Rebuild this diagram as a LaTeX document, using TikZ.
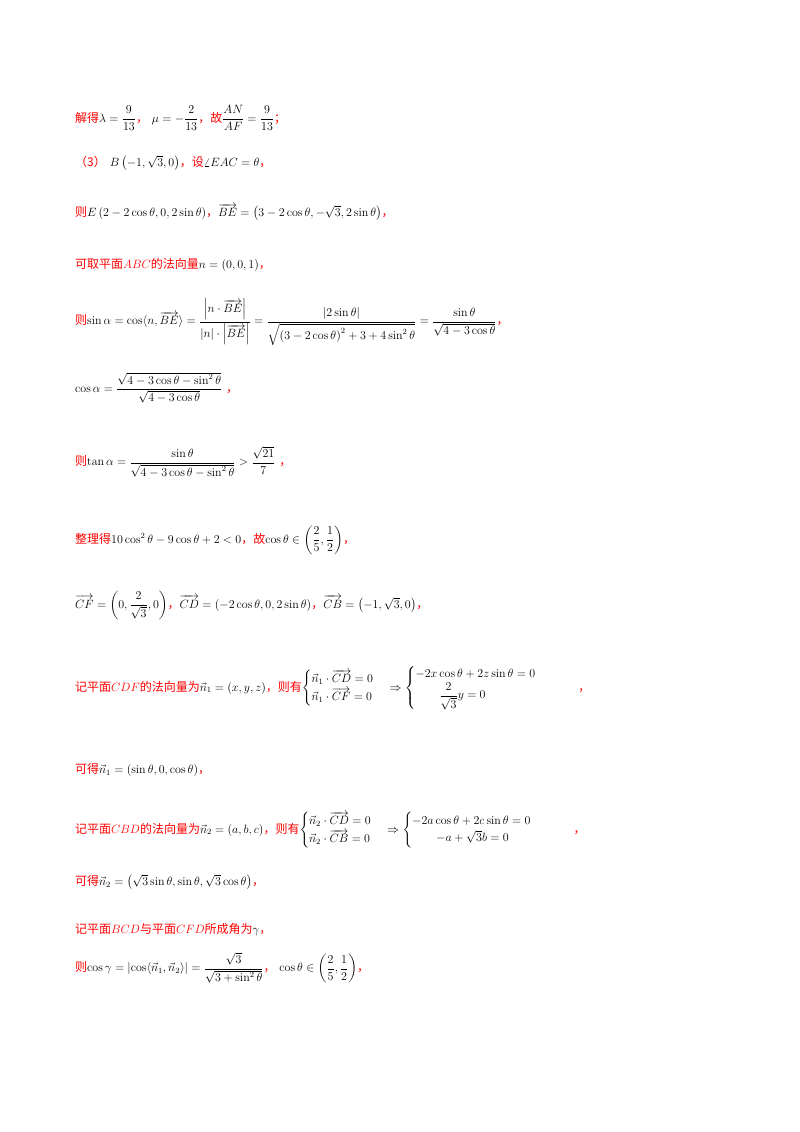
\documentclass[tikz,border=0pt]{standalone}
\usepackage{amsmath}
\usepackage{fontspec}
\newfontfamily\cjk{Noto Sans CJK SC}
\newcommand\zh[1]{{\cjk\color{red}#1}}
\newcommand\rl[1]{{\color{red}$#1$}}
\begin{document}
\begin{tikzpicture}[x=1pt,y=-1pt,line/.style={anchor=west,inner sep=0pt,font=\fontsize{12}{14}\selectfont}]
\useasboundingbox (0,0) rectangle (800,1132);
\node[line] (l1) at (75,118) {\zh{解得}$\lambda=\dfrac{9}{13}$\zh{，}\ $\mu=-\dfrac{2}{13}$\zh{，故}$\dfrac{AN}{AF}=\dfrac{9}{13}$\zh{；}};
\node[line] (l2) at (75,163) {\zh{（3）}\ $B\left(-1,\sqrt{3},0\right)$\zh{，设}$\angle EAC=\theta$\zh{，}};
\node[line] (l3) at (75,212) {\zh{则}$E\left(2-2\cos\theta,0,2\sin\theta\right)$\zh{，}$\overrightarrow{BE}=\left(3-2\cos\theta,-\sqrt{3},2\sin\theta\right)$\zh{，}};
\node[line] (l4) at (75,265) {\zh{可取平面}\rl{ABC}\zh{的法向量}$n=\left(0,0,1\right)$\zh{，}};
\node[line] (l5) at (75,322) {\zh{则}$\sin\alpha=\cos\langle n,\overrightarrow{BE}\rangle=\dfrac{\left|n\cdot\overrightarrow{BE}\right|}{\left|n\right|\cdot\left|\overrightarrow{BE}\right|}=\dfrac{\left|2\sin\theta\right|}{\sqrt{\left(3-2\cos\theta\right)^2+3+4\sin^2\theta}}=\dfrac{\sin\theta}{\sqrt{4-3\cos\theta}}$\zh{，}};
\node[line] (l6) at (75,388) {$\cos\alpha=\dfrac{\sqrt{4-3\cos\theta-\sin^2\theta}}{\sqrt{4-3\cos\theta}}$\ \zh{，}};
\node[line] (l7) at (75,462) {\zh{则}$\tan\alpha=\dfrac{\sin\theta}{\sqrt{4-3\cos\theta-\sin^2\theta}}>\dfrac{\sqrt{21}}{7}$\ \zh{，}};
\node[line] (l8) at (75,540) {\zh{整理得}$10\cos^2\theta-9\cos\theta+2<0$\zh{，故}$\cos\theta\in\left(\dfrac{2}{5},\dfrac{1}{2}\right)$\zh{，}};
\node[line] (l9) at (75,605) {$\overrightarrow{CF}=\left(0,\dfrac{2}{\sqrt{3}},0\right)$\zh{，}$\overrightarrow{CD}=\left(-2\cos\theta,0,2\sin\theta\right)$\zh{，}$\overrightarrow{CB}=\left(-1,\sqrt{3},0\right)$\zh{，}};
\node[line] (l10) at (75,688) {\zh{记平面}\rl{CDF}\zh{的法向量为}$\vec{n}_1=\left(x,y,z\right)$\zh{，则有}$\begin{cases}\vec{n}_1\cdot\overrightarrow{CD}=0\\ \vec{n}_1\cdot\overrightarrow{CF}=0\end{cases}\Rightarrow\begin{cases}-2x\cos\theta+2z\sin\theta=0\\ \qquad\dfrac{2}{\sqrt{3}}y=0\end{cases}$\hspace{30pt}\zh{，}};
\node[line] (l11) at (75,770) {\zh{可得}$\vec{n}_1=\left(\sin\theta,0,\cos\theta\right)$\zh{，}};
\node[line] (l12) at (75,830) {\zh{记平面}\rl{CBD}\zh{的法向量为}$\vec{n}_2=\left(a,b,c\right)$\zh{，则有}$\begin{cases}\vec{n}_2\cdot\overrightarrow{CD}=0\\ \vec{n}_2\cdot\overrightarrow{CB}=0\end{cases}\Rightarrow\begin{cases}-2a\cos\theta+2c\sin\theta=0\\ \qquad -a+\sqrt{3}b=0\end{cases}$\hspace{30pt}\zh{，}};
\node[line] (l13) at (75,882) {\zh{可得}$\vec{n}_2=\left(\sqrt{3}\sin\theta,\sin\theta,\sqrt{3}\cos\theta\right)$\zh{，}};
\node[line] (l14) at (75,930) {\zh{记平面}\rl{BCD}\zh{与平面}\rl{CFD}\zh{所成角为}$\gamma$\zh{，}};
\node[line] (l15) at (75,968) {\zh{则}$\cos\gamma=\left|\cos\langle\vec{n}_1,\vec{n}_2\rangle\right|=\dfrac{\sqrt{3}}{\sqrt{3+\sin^2\theta}}$\zh{，}\ $\cos\theta\in\left(\dfrac{2}{5},\dfrac{1}{2}\right)$\zh{，}};
\end{tikzpicture}
\end{document}
